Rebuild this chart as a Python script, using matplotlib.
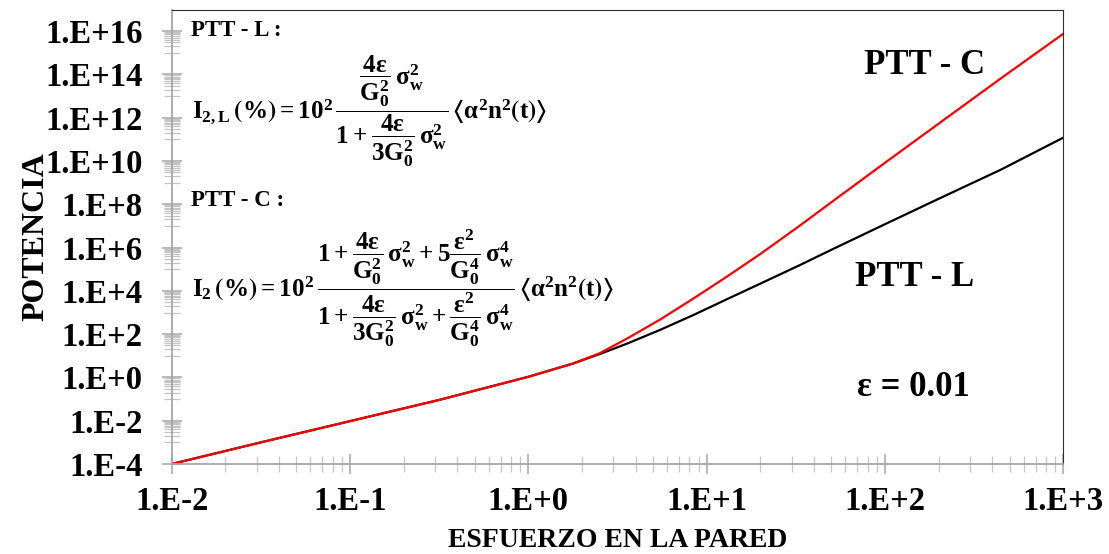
import matplotlib.pyplot as plt
import numpy as np
from matplotlib.ticker import FixedLocator, NullFormatter

plt.rcParams['font.family'] = ['Liberation Serif', 'DejaVu Serif']
plt.rcParams['font.weight'] = 'bold'
plt.rcParams['mathtext.fontset'] = 'custom'
plt.rcParams['mathtext.rm'] = 'Liberation Serif:bold'
plt.rcParams['mathtext.it'] = 'Liberation Serif:bold'
plt.rcParams['mathtext.bf'] = 'Liberation Serif:bold'
plt.rcParams['mathtext.fallback'] = 'stix'

# exponents (log10)
exp_x = [-2.0, -1.5, -1.0, -0.5, 0.0, 0.25, 0.4, 0.55, 0.74, 0.93, 1.11, 1.3,
         1.52, 1.7, 2.0, 2.3, 2.65, 3.0]
exp_ptt_l = [-4.0, -3.0, -2.02, -1.04, 0.03, 0.64, 1.08, 1.55, 2.20, 2.90, 3.60,
             4.33, 5.18, 5.90, 7.08, 8.25, 9.60, 11.08]
exp_ptt_c = [-4.0, -3.0, -2.02, -1.04, 0.03, 0.64, 1.12, 1.78, 2.68, 3.67, 4.64,
             5.70, 7.00, 8.10, 9.92, 11.72, 13.82, 15.88]

x_ticks = [1e-2, 1e-1, 1e0, 1e1, 1e2, 1e3]
x_labels = ['1.E-2', '1.E-1', '1.E+0', '1.E+1', '1.E+2', '1.E+3']
y_ticks = [10.0 ** e for e in range(-4, 17, 2)]
y_labels = ['1.E-4', '1.E-2', '1.E+0', '1.E+2', '1.E+4', '1.E+6', '1.E+8',
            '1.E+10', '1.E+12', '1.E+14', '1.E+16']

esfuerzo = np.power(10.0, exp_x)
pot_l = np.power(10.0, exp_ptt_l)
pot_c = np.power(10.0, exp_ptt_c)

W, H = 1109, 554
fig = plt.figure(figsize=(W / 100, H / 100), dpi=100)
ax = fig.add_axes([171.7 / W, 1 - 464 / H, (1063.3 - 171.7) / W, (464 - 9.5) / H])

ax.plot(esfuerzo, pot_l, color='black', lw=1.6)
ax.plot(esfuerzo, pot_c, color='#ff0000', lw=1.6)

ax.set_xscale('log')
ax.set_yscale('log')
ax.set_xlim(1e-2, 1e3)
ax.set_ylim(1e-4, 1e17)

ax.xaxis.set_major_locator(FixedLocator(x_ticks))
ax.set_xticklabels(x_labels)
ax.yaxis.set_major_locator(FixedLocator(y_ticks))
ax.set_yticklabels(y_labels)

# excel style: base-100 axis, minor ticks at 10..90 x 100^n
x_minor = [k * 10.0 ** n for n in range(-2, 3) for k in range(2, 10)]
y_minor = [k * 10.0 ** (2 * n + 1) for n in range(-3, 8) for k in range(1, 10)]
ax.xaxis.set_minor_locator(FixedLocator(x_minor))
ax.yaxis.set_minor_locator(FixedLocator(y_minor))
ax.xaxis.set_minor_formatter(NullFormatter())
ax.yaxis.set_minor_formatter(NullFormatter())

grey = '#a6a6a6'
ax.tick_params(which='major', direction='inout', length=14, width=1.1, color=grey,
               labelsize=23.5)
ax.tick_params(which='minor', direction='inout', length=11, width=0.9, color='#c4c4c4')
ax.tick_params(axis='y', which='major', pad=14)
ax.tick_params(axis='x', which='major', pad=9)
for lab in ax.get_xticklabels() + ax.get_yticklabels():
    lab.set_fontweight('bold')

ax.spines['left'].set_color(grey)
ax.spines['bottom'].set_color(grey)
ax.spines['left'].set_linewidth(1.3)
ax.spines['bottom'].set_linewidth(1.3)
ax.spines['top'].set_color('#303030')
ax.spines['right'].set_color('#303030')

ax.set_xlabel('ESFUERZO EN LA PARED', fontsize=20, fontweight='bold', labelpad=8)
ax.set_ylabel('POTENCIA', fontsize=23, fontweight='bold', labelpad=-4)


def fx(px):
    return px / W


def fy(py):
    return 1 - py / H


fig.text(fx(925), fy(65), 'PTT - C', fontsize=25, fontweight='bold', ha='center', va='center')
fig.text(fx(915), fy(277), 'PTT - L', fontsize=25, fontweight='bold', ha='center', va='center')
fig.text(fx(913), fy(387), 'ε = 0.01', fontsize=25, fontweight='bold', ha='center', va='center')

fig.text(fx(191), fy(30), 'PTT - L :', fontsize=16.5, fontweight='bold', ha='left', va='center')
fig.text(fx(191), fy(200), 'PTT - C :', fontsize=16.5, fontweight='bold', ha='left', va='center')

eq_l = (r'$\mathregular{I_{2,L}\,\left(\%\right)=10^{2}\,'
        r'\dfrac{\dfrac{4ε}{G_0^2}\,σ_w^2}{1+\dfrac{4ε}{3G_0^2}\,σ_w^2}'
        r'\,\left\langle α^2 n^2\left(t\right)\right\rangle}$')
eq_c = (r'$\mathregular{I_{2}\,\left(\%\right)=10^{2}\,'
        r'\dfrac{1+\dfrac{4ε}{G_0^2}\,σ_w^2+5\dfrac{ε^2}{G_0^4}\,σ_w^4}'
        r'{1+\dfrac{4ε}{3G_0^2}\,σ_w^2+\dfrac{ε^2}{G_0^4}\,σ_w^4}'
        r'\,\left\langle α^2 n^2\left(t\right)\right\rangle}$')
fig.text(fx(192), fy(111), eq_l, fontsize=18, ha='left', va='center')
fig.text(fx(192), fy(288), eq_c, fontsize=18, ha='left', va='center')

fig.savefig('out.png', dpi=100)
